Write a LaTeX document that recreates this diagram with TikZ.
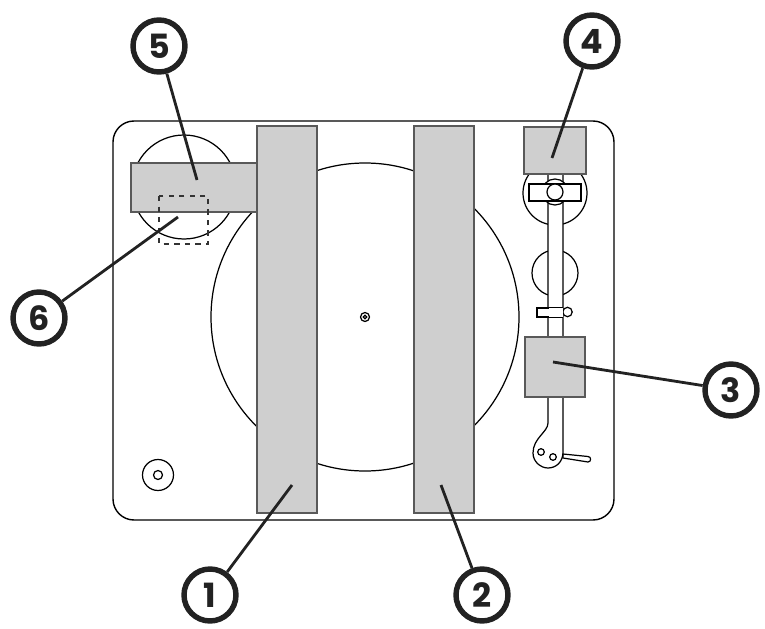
\documentclass[tikz,border=0pt]{standalone}
\usepackage{fontspec}
\setmainfont{Poppins}
\definecolor{panelgrey}{HTML}{CFCFCF}
\definecolor{inkdark}{HTML}{222222}
\tikzset{
	outline/.style={draw=black,line width=.7pt,fill=white},
	panel/.style={draw=black!65,line width=1pt,fill=panelgrey},
	callout/.style={circle,draw=inkdark,line width=3.1pt,fill=white,minimum size=1.04cm,inner sep=0pt,font=\fontsize{19}{19}\selectfont\bfseries,text=inkdark},
	leader/.style={draw=inkdark,line width=1.6pt}
}
\begin{document}
\begin{tikzpicture}[x=.02cm,y=-.02cm]
	\useasboundingbox (0,0) rectangle (765,629);
	% plate and platter
	\draw [line width=.8pt,rounded corners=.42cm] (113,121) rectangle (614,520);
	\draw [outline] (365,317) circle (154);
	\draw [outline] (365,317) circle (4.5);
	\draw [outline] (365,317) circle (1.7);
	\draw [outline] (158,475) circle (15.5);
	\draw [outline] (158,475) circle (4.5);
	% left disc with its covers
	\draw [outline] (184,187) circle (52);
	\draw [panel] (131,163) rectangle (257,212);
	\draw [dashed,line width=.6pt,draw=black!80] (159,196) rectangle (208,244);
	\draw [panel] (257,126) rectangle (317,513);
	\draw [panel] (414,126) rectangle (474,513);
	% tonearm
	\draw [outline] (555,193) circle (32);
	\draw [outline] (555,273) circle (23);
	\draw [outline] (563,454) -- (588,456.5) to[out=0,in=0,looseness=1.6] (588,462) -- (563,458) -- cycle;
	\draw [outline] (548,165) -- (548,423) .. controls (548,432) and (533,438) .. (533,453) .. controls (533,462) and (541,468) .. (548,468) .. controls (556,468) and (563,462) .. (563,452) -- (563,165) -- cycle;
	\draw [outline] (541,452) circle (3.3);
	\draw [outline] (553,457) circle (3.3);
	\draw [outline] (567.5,312) circle (4.7);
	\draw [outline] (563,308) -- (537,308) -- (537,317) -- (563,317);
	\fill [white] (549,308.4) rectangle (562.6,316.6);
	\draw [outline] (555,192) circle (13);
	\draw [outline] (529,184) rectangle (581,201);
	\draw [outline] (555,192) circle (8);
	\draw [panel] (524,127) rectangle (586,174);
	\draw [panel] (525,337) rectangle (585,397);
	% callouts
	\coordinate (end1) at (292,485);
	\coordinate (end2) at (441,485);
	\coordinate (end3) at (553,362);
	\coordinate (end4) at (552,158);
	\coordinate (end5) at (197,180);
	\coordinate (end6) at (178,217);
	\node [callout] (num1) at (210,595) {1};
	\node [callout] (num2) at (482,595) {2};
	\node [callout] (num3) at (731,390) {3};
	\node [callout] (num4) at (592,41) {4};
	\node [callout] (num5) at (159,46) {5};
	\node [callout] (num6) at (39,318) {6};
	\draw [leader] (num1) -- (end1);
	\draw [leader] (num2) -- (end2);
	\draw [leader] (num3) -- (end3);
	\draw [leader] (num4) -- (end4);
	\draw [leader] (num5) -- (end5);
	\draw [leader] (num6) -- (end6);
\end{tikzpicture}
\end{document}
